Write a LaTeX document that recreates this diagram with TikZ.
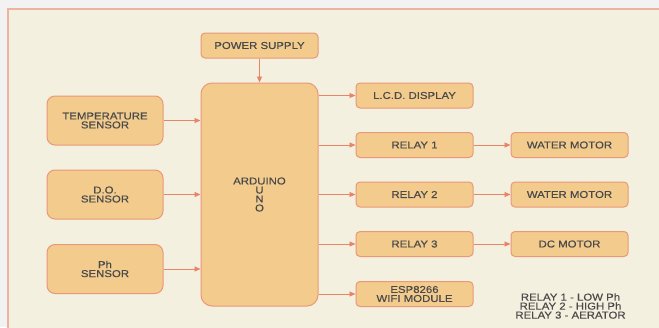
\documentclass[tikz,border=0pt]{standalone}
\usepackage{fontspec}
\setmainfont{Liberation Sans}[FakeStretch=1.14, FakeBold=0.4]
\usetikzlibrary{arrows.meta}
\definecolor{bgcream}{HTML}{F4F0DF}
\definecolor{outergray}{HTML}{F2F2F2}
\definecolor{framecol}{HTML}{EDB3A0}
\definecolor{boxfill}{HTML}{F2CB8D}
\definecolor{boxline}{HTML}{EA9878}
\definecolor{arrcol}{HTML}{E88468}
\definecolor{txtcol}{HTML}{4A4A4A}
\tikzset{
  blk/.style={draw=boxline, fill=boxfill, line width=1pt, rounded corners=4pt,
    minimum width=117pt, minimum height=25pt, inner sep=1pt, align=center,
    text=txtcol, font=\fontsize{10}{9}\selectfont},
  bigblk/.style={blk, rounded corners=8pt, minimum width=116pt, minimum height=49pt},
  arr/.style={draw=arrcol, line width=0.9pt, -{Triangle[length=6pt,width=5pt]}},
}
\begin{document}
\begin{tikzpicture}[x=1pt,y=-1pt]
\useasboundingbox (0,0) rectangle (659,327);
\fill[outergray] (0,0) rectangle (659,327);
\fill[bgcream] (8,9) rectangle (662,330);
\draw[framecol, line width=1.2pt] (8,330) -- (8,9) -- (662,9);

\node[blk] (pw) at (259.5,45.5) {POWER SUPPLY};
\node[blk, rounded corners=11pt, minimum height=223pt] (ard) at (259.5,194.5) {ARDUINO\\U\\N\\O};
\node[bigblk] (temp) at (105,120.5) {TEMPERATURE\\SENSOR};
\node[bigblk] (do) at (105,194.5) {D.O.\\SENSOR};
\node[bigblk] (ph) at (105,269) {Ph\\SENSOR};
\node[blk] (lcd) at (414.5,95.5) {L.C.D. DISPLAY};
\node[blk] (r1) at (414.5,145) {RELAY 1};
\node[blk] (wm1) at (569.5,145) {WATER MOTOR};
\node[blk] (r2) at (414.5,194.5) {RELAY 2};
\node[blk] (wm2) at (569.5,194.5) {WATER MOTOR};
\node[blk] (r3) at (414.5,244) {RELAY 3};
\node[blk] (dc) at (569.5,244) {DC MOTOR};
\node[blk] (esp) at (414.5,294) {ESP8266\\WIFI MODULE};
\node[text=txtcol, font=\fontsize{10}{9}\selectfont, align=center, inner sep=0pt] (legend) at (570.5,306) {RELAY 1 - LOW Ph\\RELAY 2 - HIGH Ph\\RELAY 3 - AERATOR};

\draw[arr] (pw.south) -- (ard.north);
\draw[arr] (temp.east) -- (temp.east -| ard.west);
\draw[arr] (do.east) -- (do.east -| ard.west);
\draw[arr] (ph.east) -- (ph.east -| ard.west);
\draw[arr] (ard.east |- lcd.west) -- (lcd.west);
\draw[arr] (ard.east |- r1.west) -- (r1.west);
\draw[arr] (ard.east |- r2.west) -- (r2.west);
\draw[arr] (ard.east |- r3.west) -- (r3.west);
\draw[arr] (ard.east |- esp.west) -- (esp.west);
\draw[arr] (r1.east) -- (wm1.west);
\draw[arr] (r2.east) -- (wm2.west);
\draw[arr] (r3.east) -- (dc.west);
\end{tikzpicture}
\end{document}
